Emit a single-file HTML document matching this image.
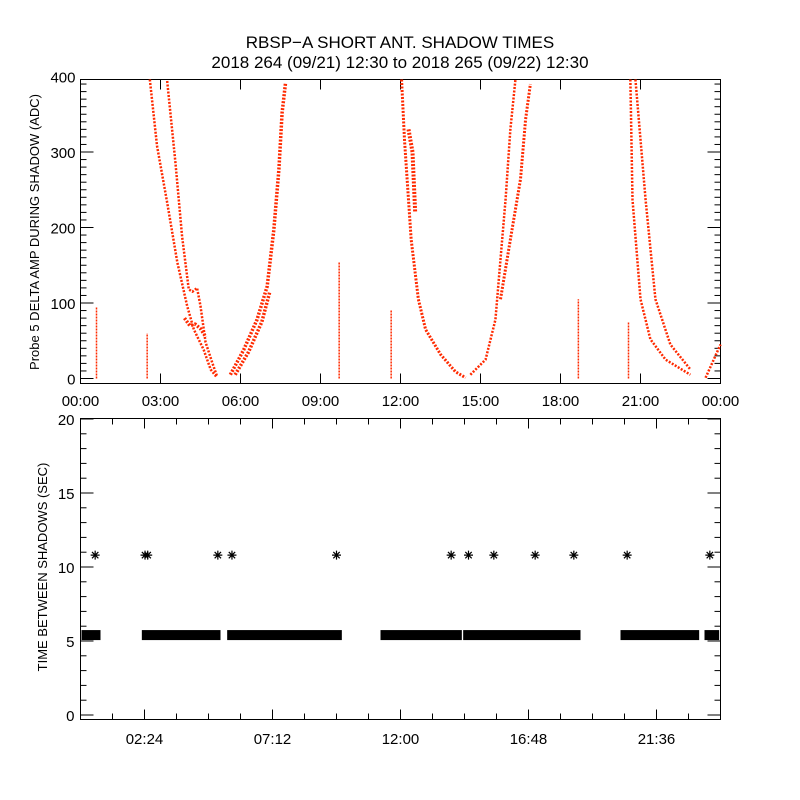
<!DOCTYPE html>
<html><head><meta charset="utf-8">
<style>
html,body{margin:0;padding:0;background:#fff;}
svg{display:block;font-family:"Liberation Sans",sans-serif;}
</style></head>
<body>
<svg id="chart" width="800" height="800" viewBox="0 0 800 800">
<rect x="0" y="0" width="800" height="800" fill="#fff"/>
<text x="400" y="48" font-size="17" text-anchor="middle">RBSP−A SHORT ANT. SHADOW TIMES</text>
<text x="400" y="68" font-size="17" text-anchor="middle">2018 264 (09/21) 12:30 to 2018 265 (09/22) 12:30</text>
<g id="topPanel"></g>
<g id="botPanel"></g>
<text transform="translate(39,232) rotate(-90)" font-size="13" text-anchor="middle">Probe 5 DELTA AMP DURING SHADOW (ADC)</text>
<text transform="translate(47,567) rotate(-90)" font-size="13" text-anchor="middle">TIME BETWEEN SHADOWS (SEC)</text>
</svg>
<script>
// ---- data (hours since 00:00, values) ----
const topXTicks = [0,3,6,9,12,15,18,21,24];
const topXLabels = ["00:00","03:00","06:00","09:00","12:00","15:00","18:00","21:00","00:00"];
const topYTicks = [0,100,200,300,400];
const trackA1H = [2.6,2.87,3.25,3.63,4.0,4.25,4.62,4.88,5.12];
const trackA1V = [396,308,233,154,96,65,38,12,1];
const trackA2H = [3.25,3.56,3.81,4.06,4.2,4.37,4.5,4.69,4.94,5.12];
const trackA2V = [394,286,188,118,115,120,96,48,21,3];
const trackA3H = [3.9,4.1,4.3,4.5,4.7];
const trackA3V = [80,70,72,66,55];
const trackBH = [5.62,6.12,6.62,7.0,7.25,7.44,7.56,7.69];
const trackBV = [5,38,78,122,197,277,352,392];
const trackB2H = [5.8,6.3,6.8,7.1];
const trackB2V = [5,35,75,115];
const trackCH = [12.04,12.15,12.4,12.67,12.94,13.5,14.06,14.44];
const trackCV = [396,316,184,105,65,32,9,1];
const trackC2H = [12.3,12.45,12.5,12.55];
const trackC2V = [330,300,260,220];
const trackDH = [14.62,15.19,15.56,15.75,15.94,16.12,16.31];
const trackDV = [5,25,78,158,237,330,396];
const trackD2H = [15.75,16.12,16.5,16.69,16.87];
const trackD2V = [105,184,264,343,390];
const trackEH = [20.62,20.7,21.0,21.37,21.94,22.87];
const trackEV = [396,237,105,52,25,5];
const trackE2H = [20.81,21.19,21.56,22.12,22.87];
const trackE2V = [396,237,105,45,12];
const trackFH = [23.44,24.0];
const trackFV = [1,45];
const stickH = [0.6,2.5,9.7,11.65,18.67,20.55];
const stickTop = [95,60,155,90,105,75];

const botXTicks = [2.4,7.2,12.0,16.8,21.6];
const botXLabels = ["02:24","07:12","12:00","16:48","21:36"];
const botYTicks = [0,5,10,15,20];
const starH = [0.55,2.42,2.52,5.15,5.68,9.6,13.9,14.55,15.5,17.05,18.5,20.5,23.6];
const starV = [10.8,10.8,10.8,10.8,10.8,10.8,10.8,10.8,10.8,10.8,10.8,10.8,10.8];
const barStart = [0.0,2.3,5.5,11.25,14.35,20.25,23.4];
const barEnd = [0.75,5.25,9.8,14.3,18.75,23.2,23.95];
const barV = [5.4,5.4,5.4,5.4,5.4,5.4,5.4];

const NS="http://www.w3.org/2000/svg";
function mk(p,tag,attrs){const e=document.createElementNS(NS,tag);for(const k in attrs)e.setAttribute(k,attrs[k]);p.appendChild(e);return e;}
const X0=80.5,X1=720.5;
const xs=h=>X0+(X1-X0)*h/24;
// top panel
const T0=79.5,T1=383.5;
const ty=v=>378.5-v*0.755;
const topG=document.getElementById('topPanel');
const tframe=mk(topG,'rect',{x:X0,y:T0,width:X1-X0,height:T1-T0,fill:'none',stroke:'#000','stroke-width':1});


for(let v=0;v<=397;v+=10){const major=v%100===0;const L=major?13:6;
 const a=mk(topG,'line',{x1:X0,x2:X0+L,y1:ty(v),y2:ty(v),stroke:'#000'});
 
 
 const b=mk(topG,'line',{x1:X1,x2:X1-L,y1:ty(v),y2:ty(v),stroke:'#000'});
 
 }
topYTicks.forEach(v=>{const t=mk(topG,'text',{x:X0-5,y:ty(v)+6,'font-size':15,'text-anchor':'end'});t.textContent=v;
 
 });
topXTicks.forEach((h,i)=>{
 const a=mk(topG,'line',{x1:xs(h),x2:xs(h),y1:T1,y2:T1-10,stroke:'#000'});
 
 
 const b=mk(topG,'line',{x1:xs(h),x2:xs(h),y1:T0,y2:T0+10,stroke:'#000'});
 
 
 const t=mk(topG,'text',{x:xs(h),y:406,'font-size':15,'text-anchor':'middle'});t.textContent=topXLabels[i];
 
 });
function track(H,V,w,name){
 const pts=H.map((h,i)=>xs(h)+','+ty(V[i])).join(' ');
 const p=mk(topG,'polyline',{points:pts,fill:'none',stroke:'#ff2a00','stroke-width':w,'stroke-dasharray':'2 1.5','stroke-linejoin':'round'});
 
 }
track(trackA1H,trackA1V,2.5,'track-a1');
track(trackA2H,trackA2V,2.5,'track-a2');
track(trackA3H,trackA3V,3.5,'track-a3');
track(trackBH,trackBV,3.5,'track-b');
track(trackB2H,trackB2V,3.5,'track-b2');
track(trackCH,trackCV,3,'track-c');
track(trackC2H,trackC2V,4,'track-c2');
track(trackDH,trackDV,2.5,'track-d');
track(trackD2H,trackD2V,3,'track-d2');
track(trackEH,trackEV,2.5,'track-e');
track(trackE2H,trackE2V,2.5,'track-e2');
track(trackFH,trackFV,2.5,'track-f');
stickH.forEach((h,i)=>{const l=mk(topG,'line',{x1:xs(h),x2:xs(h),y1:ty(0),y2:ty(stickTop[i]),stroke:'#ff2a00','stroke-width':1.5,'stroke-dasharray':'2 1'});
 
 });
// bottom panel
const B0=418.5,B1=719.5;
const by=v=>715-v*14.8;
const botG=document.getElementById('botPanel');
const bframe=mk(botG,'rect',{x:X0,y:B0,width:X1-X0,height:B1-B0,fill:'none',stroke:'#000'});


for(let v=0;v<=20;v+=1){const major=v%5===0;const L=major?13:6;
 const a=mk(botG,'line',{x1:X0,x2:X0+L,y1:by(v),y2:by(v),stroke:'#000'});
 
 
 const b=mk(botG,'line',{x1:X1,x2:X1-L,y1:by(v),y2:by(v),stroke:'#000'});
 
 }
botYTicks.forEach(v=>{const t=mk(botG,'text',{x:X0-6,y:by(v)+6,'font-size':15,'text-anchor':'end'});t.textContent=v;
 
 });
for(let k=1;k<20;k++){const h=k*1.2;const major=k%4===2;const L=major?10:6;
 const a=mk(botG,'line',{x1:xs(h),x2:xs(h),y1:B1,y2:B1-L,stroke:'#000'});
 
 
 const b=mk(botG,'line',{x1:xs(h),x2:xs(h),y1:B0,y2:B0+L,stroke:'#000'});
 
 }
botXTicks.forEach((h,i)=>{const t=mk(botG,'text',{x:xs(h),y:744,'font-size':15,'text-anchor':'middle'});t.textContent=botXLabels[i];
 
 });
barStart.forEach((s,i)=>{const x1=Math.max(xs(s),X0+1);const r=mk(botG,'rect',{x:x1,y:by(barV[i])-5,width:xs(barEnd[i])-x1,height:10,fill:'#000'});
 
 });
starH.forEach((h,i)=>{const cx=xs(h),cy=by(starV[i]);const r=4.5;
 const d=`M${cx-r},${cy}H${cx+r}M${cx},${cy-r}V${cy+r}M${cx-3.2},${cy-3.2}L${cx+3.2},${cy+3.2}M${cx-3.2},${cy+3.2}L${cx+3.2},${cy-3.2}`;
 const p=mk(botG,'path',{d:d,stroke:'#000','stroke-width':1.2,fill:'none'});
 
 });
</script>
</body></html>
